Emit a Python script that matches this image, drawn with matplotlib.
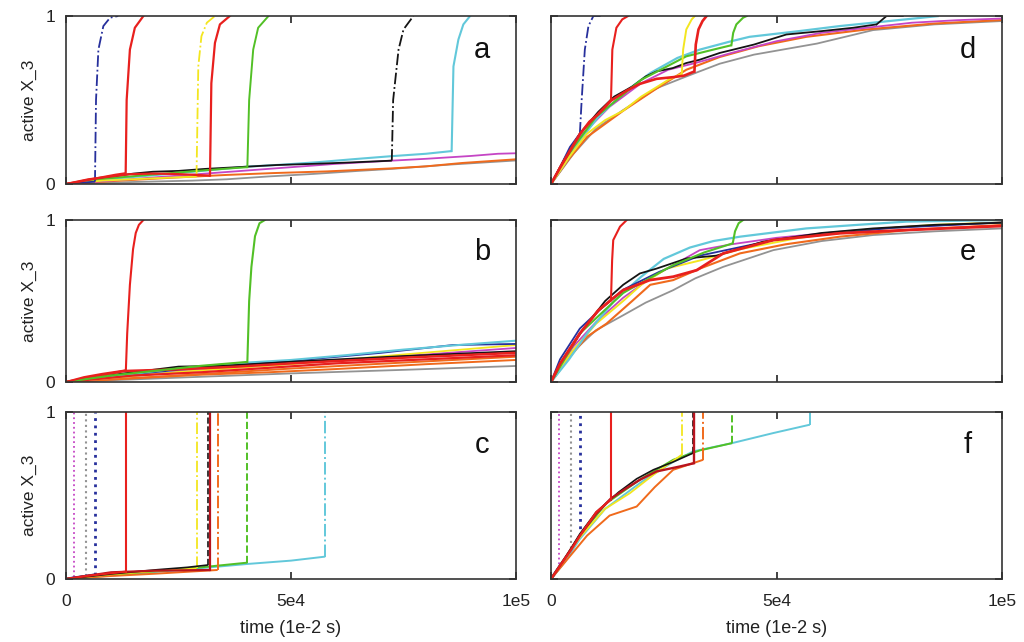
import matplotlib
matplotlib.use("Agg")
import matplotlib.pyplot as plt

plt.rcParams['font.family'] = ['Liberation Sans', 'DejaVu Sans']

# ---------------- data (time in units of 1e-2 s, active X_3 fraction) ----------------
x_ticks = [0, 50000, 100000]
x_ticklabels = ["0", "5e4", "1e5"]
y_ticks = [0, 1]
y_ticklabels = ["0", "1"]
panel_letters = ["a", "b", "c", "d", "e", "f"]
x_label = "time (1e-2 s)"
y_label = "active X_3"

# panel a
a_gray = [(0, 0), (15000, 0.012), (28000, 0.02), (35700, 0.028), (45000, 0.045), (55000, 0.06), (65000, 0.078), (72400, 0.09), (85000, 0.115), (100000, 0.14)]
a_orange = [(0, 0), (12000, 0.02), (24000, 0.038), (35700, 0.054), (46000, 0.065), (58000, 0.075), (72400, 0.093), (80000, 0.105), (88000, 0.125), (100000, 0.147)]
a_magenta = [(0, 0), (15000, 0.03), (30000, 0.06), (45000, 0.09), (60000, 0.12), (72400, 0.139), (80000, 0.15), (90000, 0.167), (96000, 0.18), (100000, 0.183)]
a_cyan = [(0, 0), (12000, 0.035), (25000, 0.065), (33000, 0.085), (40100, 0.103), (48000, 0.115), (56000, 0.13), (64000, 0.148), (72000, 0.165), (80000, 0.18), (85700, 0.196)]
a_cyan_up = [(85700, 0.196), (86100, 0.7), (87200, 0.86), (88300, 0.95), (89800, 1.0)]
a_black = [(0, 0), (8000, 0.035), (15000, 0.062), (19300, 0.073), (25000, 0.078), (31000, 0.09), (38000, 0.1), (46800, 0.113), (55000, 0.12), (63000, 0.128), (72400, 0.139)]
a_black_up = [(72400, 0.139), (72700, 0.5), (73900, 0.8), (75000, 0.92), (77200, 1.0)]
a_green = [(0, 0), (10000, 0.035), (20000, 0.058), (30000, 0.08), (36000, 0.092), (40300, 0.10)]
a_green_up = [(40300, 0.10), (40700, 0.5), (41600, 0.8), (42700, 0.93), (45000, 1.0)]
a_yellow = [(0, 0), (8000, 0.02), (16000, 0.03), (23000, 0.038), (29000, 0.044)]
a_yellow_up = [(29000, 0.044), (29400, 0.7), (30100, 0.88), (31300, 0.96), (33100, 1.0)]
a_blue = [(0, 0), (2000, 0.006), (4500, 0.01), (6440, 0.014)]
a_blue_up = [(6440, 0.014), (6670, 0.5), (7200, 0.8), (8300, 0.94), (9800, 0.99), (11600, 1.0)]
a_red2 = [(0, 0), (5000, 0.028), (10000, 0.045), (14000, 0.058), (19000, 0.062), (24000, 0.06), (28000, 0.055), (32000, 0.05)]
a_red2_up = [(32000, 0.05), (32300, 0.6), (33100, 0.84), (34200, 0.95), (36400, 1.0)]
a_red1 = [(0, 0), (2500, 0.012), (5000, 0.025), (8000, 0.04), (11000, 0.055), (13260, 0.064)]
a_red1_up = [(13260, 0.064), (13480, 0.5), (14200, 0.8), (15300, 0.93), (17200, 1.0)]

# panel b
b_gray = [(0, 0), (25000, 0.027), (50000, 0.053), (75000, 0.075), (100000, 0.099)]
b_orange2 = [(0, 0), (30000, 0.045), (45000, 0.06), (60000, 0.08), (80000, 0.11), (100000, 0.136)]
b_orange = [(0, 0), (12000, 0.02), (25000, 0.04), (50000, 0.083), (75000, 0.12), (100000, 0.156)]
b_magenta = [(0, 0), (12000, 0.03), (25000, 0.062), (50000, 0.115), (75000, 0.16), (100000, 0.21)]
b_yellow = [(0, 0), (12000, 0.03), (25000, 0.062), (50000, 0.11), (75000, 0.17), (100000, 0.228)]
b_blue = [(0, 0), (10000, 0.035), (25000, 0.075), (50000, 0.13), (70000, 0.18), (85900, 0.228), (100000, 0.235)]
b_cyan = [(0, 0), (12000, 0.04), (25000, 0.085), (40300, 0.12), (50000, 0.136), (62000, 0.165), (75000, 0.2), (88000, 0.23), (100000, 0.255)]
b_black = [(0, 0), (12000, 0.05), (25000, 0.095), (35000, 0.1), (50000, 0.125), (75000, 0.16), (100000, 0.19)]
b_red3 = [(0, 0), (15000, 0.04), (30000, 0.06), (60000, 0.115), (80000, 0.14), (100000, 0.165)]
b_red2 = [(0, 0), (13000, 0.068), (25000, 0.078), (38000, 0.095), (50000, 0.115), (75000, 0.15), (100000, 0.18)]
b_green = [(0, 0), (10000, 0.04), (20000, 0.07), (30000, 0.1), (40300, 0.124)]
b_green_up = [(40300, 0.124), (40700, 0.5), (41200, 0.71), (42000, 0.9), (43000, 0.98), (44200, 1.0)]
b_red1 = [(0, 0), (4000, 0.03), (8000, 0.05), (13300, 0.072)]
b_red1_up = [(13300, 0.072), (13600, 0.3), (14200, 0.6), (14900, 0.82), (15500, 0.92), (16200, 0.97), (17200, 1.0)]

# panel c
c_magenta = [(0, 0), (1800, 0.01)]
c_magenta_up = [(1800, 0.01), (1800, 1.0)]
c_gray = [(0, 0), (4370, 0.018)]
c_gray_up = [(4370, 0.018), (4370, 1.0)]
c_blue = [(0, 0), (6440, 0.025)]
c_blue_up = [(6440, 0.025), (6440, 1.0)]
c_cyan = [(0, 0), (15000, 0.03), (30000, 0.065), (40300, 0.09), (50000, 0.11), (57600, 0.134)]
c_cyan_up = [(57600, 0.134), (57600, 1.0)]
c_green = [(0, 0), (15000, 0.035), (30000, 0.07), (40300, 0.098)]
c_green_up = [(40300, 0.098), (40300, 1.0)]
c_orange = [(0, 0), (10000, 0.018), (20000, 0.032), (33700, 0.054)]
c_orange_up = [(33700, 0.054), (33700, 1.0)]
c_yellow = [(0, 0), (10000, 0.028), (20000, 0.048), (29000, 0.064)]
c_yellow_up = [(29000, 0.064), (29000, 1.0)]
c_black = [(0, 0), (10000, 0.03), (20000, 0.055), (27000, 0.07), (31600, 0.084)]
c_black_up = [(31600, 0.084), (31600, 1.0)]
c_red2 = [(0, 0), (10000, 0.04), (20000, 0.05), (32000, 0.054)]
c_red2_up = [(32000, 0.054), (32000, 1.0)]
c_red1 = [(0, 0), (5000, 0.02), (13260, 0.044)]
c_red1_up = [(13260, 0.044), (13260, 1.0)]

# panel d
d_gray = [(0, 0), (5000, 0.18), (10000, 0.33), (16000, 0.44), (23400, 0.57), (30000, 0.64), (37400, 0.716), (45000, 0.77), (59000, 0.836), (71400, 0.916), (85000, 0.95), (100000, 0.97)]
d_orange = [(0, 0), (4000, 0.15), (8000, 0.28), (16000, 0.436), (22700, 0.556), (30000, 0.68), (37400, 0.756), (46000, 0.82), (56600, 0.876), (70000, 0.92), (85000, 0.955), (100000, 0.976)]
d_magenta = [(0, 0), (6400, 0.28), (13000, 0.46), (20000, 0.6), (26000, 0.68), (32000, 0.72), (40000, 0.78), (50000, 0.85), (60000, 0.9), (70000, 0.93), (80000, 0.96), (90000, 0.975), (100000, 0.985)]
d_cyan = [(0, 0), (3000, 0.12), (6400, 0.26), (10500, 0.4), (16000, 0.54), (22000, 0.66), (28000, 0.75), (33000, 0.8), (40000, 0.85), (44000, 0.876), (55000, 0.91), (64000, 0.94), (75000, 0.97), (86000, 1.0)]
d_black = [(0, 0), (3000, 0.15), (6400, 0.3), (10500, 0.43), (14000, 0.52), (18000, 0.58), (21000, 0.64), (23400, 0.67), (27000, 0.69), (30000, 0.72), (33000, 0.74), (37400, 0.78), (45000, 0.83), (52200, 0.89), (60000, 0.91), (67000, 0.93), (72200, 0.95)]
d_black_up = [(72200, 0.95), (74400, 1.0), (78000, 1.0)]
d_green = [(0, 0), (5000, 0.22), (10000, 0.4), (20000, 0.62), (30000, 0.76), (36000, 0.8), (40000, 0.826)]
d_green_up = [(40000, 0.826), (40400, 0.9), (41100, 0.95), (42600, 0.99), (43400, 1.0)]
d_yellow = [(0, 0), (4000, 0.16), (8000, 0.3), (12000, 0.38), (16000, 0.436), (20000, 0.52), (23400, 0.576), (26000, 0.62), (29000, 0.656)]
d_yellow_up = [(29000, 0.656), (29300, 0.8), (30000, 0.92), (31200, 0.98), (31900, 1.0)]
d_blue = [(0, 0), (2000, 0.1), (4200, 0.22), (6400, 0.3)]
d_blue_up = [(6400, 0.3), (6800, 0.5), (7500, 0.8), (8300, 0.94), (9400, 1.0), (11000, 1.0)]
d_red2 = [(0, 0), (2000, 0.096), (4200, 0.196), (6400, 0.296), (8500, 0.37), (10500, 0.416), (13300, 0.496), (16800, 0.556), (19700, 0.596), (23400, 0.626), (27100, 0.636), (29500, 0.645), (31800, 0.67)]
d_red2_up = [(31800, 0.67), (32100, 0.83), (32700, 0.92), (33600, 0.97), (34500, 1.0)]
d_red1 = [(0, 0), (2000, 0.1), (4200, 0.2), (6400, 0.3), (10500, 0.42), (13300, 0.5)]
d_red1_up = [(13300, 0.5), (13600, 0.8), (14500, 0.93), (15800, 0.98), (17100, 1.0)]

# panel e
e_gray = [(0, 0), (5000, 0.19), (10000, 0.32), (16000, 0.412), (21000, 0.49), (27100, 0.567), (32000, 0.64), (38200, 0.711), (49300, 0.814), (60000, 0.87), (71400, 0.907), (85000, 0.93), (100000, 0.948)]
e_orange = [(0, 0), (4000, 0.15), (8000, 0.28), (12300, 0.36), (18000, 0.5), (22000, 0.6), (27100, 0.629), (33000, 0.7), (41900, 0.794), (52000, 0.85), (64000, 0.897), (80000, 0.94), (100000, 0.969)]
e_magenta = [(0, 0), (5000, 0.22), (10000, 0.37), (16000, 0.52), (22000, 0.64), (27000, 0.72), (33000, 0.814), (40000, 0.85), (50000, 0.89), (65000, 0.93), (80000, 0.96), (100000, 0.985)]
e_yellow = [(0, 0), (5000, 0.2), (10000, 0.36), (16000, 0.5), (20000, 0.6), (25600, 0.7), (33000, 0.75), (42000, 0.82), (55000, 0.89), (70000, 0.94), (85000, 0.97), (100000, 0.985)]
e_cyan = [(0, 0), (4000, 0.14), (8000, 0.3), (14000, 0.5), (20000, 0.65), (25000, 0.76), (30800, 0.83), (36000, 0.87), (41900, 0.897), (56600, 0.948), (68000, 0.97), (78800, 0.99), (100000, 1.0)]
e_blue = [(0, 0), (2000, 0.14), (6400, 0.33), (11000, 0.45), (16000, 0.57), (24000, 0.68), (33000, 0.78), (50000, 0.88), (75000, 0.95), (100000, 0.985)]
e_black = [(0, 0), (3000, 0.15), (7000, 0.32), (12000, 0.5), (16000, 0.6), (19700, 0.67), (23400, 0.7), (30100, 0.763), (36700, 0.78), (47000, 0.866), (60000, 0.92), (71400, 0.948), (85000, 0.97), (100000, 0.983)]
e_green = [(0, 0), (6400, 0.3), (16000, 0.55), (27000, 0.72), (34000, 0.8), (40300, 0.856)]
e_green_up = [(40300, 0.856), (40800, 0.93), (41600, 0.98), (42600, 1.0)]
e_red2 = [(0, 0), (2000, 0.113), (6400, 0.3), (10500, 0.443), (16000, 0.567), (21900, 0.629), (27100, 0.65), (32300, 0.69), (38200, 0.794), (49300, 0.876), (64000, 0.918), (78800, 0.938), (100000, 0.963)]
e_red1 = [(0, 0), (2000, 0.11), (6400, 0.3), (10500, 0.44), (13300, 0.505)]
e_red1_up = [(13300, 0.505), (13550, 0.75), (13800, 0.876), (15300, 0.959), (16800, 1.0)]

# panel f
f_magenta = [(0, 0), (1770, 0.06)]
f_magenta_up = [(1770, 0.06), (1770, 1.0)]
f_gray = [(0, 0), (2000, 0.07), (4360, 0.15)]
f_gray_up = [(4360, 0.15), (4360, 1.0)]
f_blue = [(0, 0), (2000, 0.08), (4400, 0.17), (6430, 0.26)]
f_blue_up = [(6430, 0.26), (6430, 1.0)]
f_cyan = [(0, 0), (3000, 0.1), (6400, 0.24), (12000, 0.42), (20000, 0.58), (27000, 0.7), (31500, 0.764), (36000, 0.79), (40200, 0.814), (49300, 0.874), (57400, 0.924)]
f_cyan_up = [(57400, 0.924), (57400, 1.0)]
f_green = [(0, 0), (6400, 0.26), (12300, 0.454), (20000, 0.6), (27100, 0.714), (33000, 0.77), (40200, 0.814)]
f_green_up = [(40200, 0.814), (40200, 1.0)]
f_orange = [(0, 0), (4000, 0.13), (8000, 0.26), (13000, 0.38), (19000, 0.434), (23000, 0.55), (27100, 0.654), (30000, 0.68), (33750, 0.714)]
f_orange_up = [(33750, 0.714), (33750, 1.0)]
f_yellow = [(0, 0), (6400, 0.25), (12000, 0.42), (17500, 0.514), (23000, 0.63), (29000, 0.744)]
f_yellow_up = [(29000, 0.744), (29000, 1.0)]
f_black = [(0, 0), (3000, 0.12), (6400, 0.27), (10000, 0.4), (15000, 0.52), (19000, 0.6), (22700, 0.654), (27000, 0.7), (31500, 0.754)]
f_black_up = [(31500, 0.754), (31500, 1.0)]
f_red2 = [(0, 0), (2000, 0.08), (6400, 0.26), (10000, 0.39), (13200, 0.48), (16500, 0.54), (19700, 0.594), (23400, 0.644), (28600, 0.674), (31800, 0.694)]
f_red2_up = [(31800, 0.694), (31800, 1.0)]
f_red1 = [(0, 0), (2000, 0.08), (4400, 0.17), (6430, 0.26), (10000, 0.4), (13200, 0.474)]
f_red1_up = [(13200, 0.474), (13200, 1.0)]

# ---------------- styles ----------------
COL = {
    'gray': '#939393', 'orange': '#f06a1c', 'magenta': '#c545c5', 'cyan': '#62c8da',
    'black': '#141414', 'green': '#52c026', 'yellow': '#f3e620', 'blue': '#27309c',
    'red': '#e8201e', 'darkred': '#b8141e',
}

# (base, rise, colour, rise linestyle, linewidth)
panels = {
    'a': [(a_gray, None, 'gray', '-', 1.3), (a_orange, None, 'orange', '-', 1.4),
          (a_magenta, None, 'magenta', '-', 1.3), (a_cyan, a_cyan_up, 'cyan', '-', 1.5),
          (a_black, a_black_up, 'black', '-.', 1.3), (a_green, a_green_up, 'green', '-', 1.4),
          (a_yellow, a_yellow_up, 'yellow', '-.', 1.3), (a_blue, a_blue_up, 'blue', '-.', 1.3),
          (a_red2, a_red2_up, 'red', '-', 1.6), (a_red1, a_red1_up, 'red', '-', 1.6)],
    'b': [(b_gray, None, 'gray', '-', 1.3), (b_orange2, None, 'orange', '-', 1.4),
          (b_orange, None, 'orange', '-', 1.4), (b_magenta, None, 'magenta', '-', 1.3),
          (b_yellow, None, 'yellow', '-', 1.3), (b_blue, None, 'blue', '-', 1.3),
          (b_cyan, None, 'cyan', '-', 1.5), (b_black, None, 'black', '-', 1.3),
          (b_red3, None, 'red', '-', 1.6), (b_red2, None, 'red', '-', 1.8),
          (b_green, b_green_up, 'green', '-', 1.5), (b_red1, b_red1_up, 'red', '-', 1.5)],
    'c': [(c_magenta, c_magenta_up, 'magenta', ':', 1.3), (c_gray, c_gray_up, 'gray', ':', 1.5),
          (c_blue, c_blue_up, 'blue', ':', 2.0), (c_cyan, c_cyan_up, 'cyan', '-.', 1.4),
          (c_green, c_green_up, 'green', '--', 1.4), (c_orange, c_orange_up, 'orange', '-.', 1.4),
          (c_yellow, c_yellow_up, 'yellow', '-.', 1.3), (c_black, c_black_up, 'black', '--', 1.2),
          (c_red2, c_red2_up, 'darkred', '-', 1.6), (c_red1, c_red1_up, 'red', '-', 1.5)],
    'd': [(d_gray, None, 'gray', '-', 1.3), (d_orange, None, 'orange', '-', 1.5),
          (d_magenta, None, 'magenta', '-', 1.3), (d_cyan, None, 'cyan', '-', 1.6),
          (d_black, d_black_up, 'black', '-', 1.3), (d_green, d_green_up, 'green', '-', 1.5),
          (d_yellow, d_yellow_up, 'yellow', '-', 1.4), (d_blue, d_blue_up, 'blue', '-.', 1.3),
          (d_red2, d_red2_up, 'red', '-', 1.9), (d_red1, d_red1_up, 'red', '-', 1.5)],
    'e': [(e_gray, None, 'gray', '-', 1.3), (e_orange, None, 'orange', '-', 1.5),
          (e_magenta, None, 'magenta', '-', 1.3), (e_yellow, None, 'yellow', '-', 1.4),
          (e_cyan, None, 'cyan', '-', 1.6), (e_blue, None, 'blue', '-', 1.3),
          (e_black, None, 'black', '-', 1.3), (e_green, e_green_up, 'green', '-', 1.5),
          (e_red2, None, 'red', '-', 2.0), (e_red1, e_red1_up, 'red', '-', 1.5)],
    'f': [(f_magenta, f_magenta_up, 'magenta', ':', 1.3), (f_gray, f_gray_up, 'gray', ':', 1.5),
          (f_blue, f_blue_up, 'blue', ':', 2.0), (f_cyan, f_cyan_up, 'cyan', '-.', 1.4),
          (f_green, f_green_up, 'green', '--', 1.4), (f_orange, f_orange_up, 'orange', '-.', 1.4),
          (f_yellow, f_yellow_up, 'yellow', '-.', 1.3), (f_black, f_black_up, 'black', '--', 1.2),
          (f_red2, f_red2_up, 'darkred', '-', 1.7), (f_red1, f_red1_up, 'red', '-', 1.5)],
}

fig = plt.figure(figsize=(10.24, 6.42), dpi=100)
W, H = 1024.0, 642.0
col_x = [(66, 516), (551, 1002)]
row_y = [(16, 184), (220, 382), (412, 579)]

for ci, (x0, x1) in enumerate(col_x):
    for ri, (y0, y1) in enumerate(row_y):
        letter = panel_letters[ci * 3 + ri]
        ax = fig.add_axes([x0 / W, 1 - y1 / H, (x1 - x0) / W, (y1 - y0) / H])
        for base, rise, cname, ls, lw in panels[letter]:
            c = COL[cname]
            ax.plot([p[0] for p in base], [p[1] for p in base], color=c, lw=lw, ls='-',
                    solid_capstyle='butt')
            if rise is not None:
                ax.plot([p[0] for p in rise], [p[1] for p in rise], color=c, lw=lw, ls=ls)
        ax.set_xlim(0, 100000)
        ax.set_ylim(0, 1)
        ax.set_xticks(x_ticks)
        ax.set_yticks(y_ticks)
        ax.tick_params(direction='in', top=True, right=True, length=5, width=1.2,
                       labelsize=12.5, colors='#222222')
        ax.tick_params(axis='x', pad=11)
        ax.tick_params(axis='y', pad=8)
        if ri == 2:
            ax.set_xticklabels(x_ticklabels)
            ax.set_xlabel(x_label, fontsize=13, labelpad=8, color='#222222')
        else:
            ax.set_xticklabels([])
        if ci == 0:
            ax.set_yticklabels(y_ticklabels)
            ax.set_ylabel(y_label, fontsize=12.5, labelpad=6, color='#222222')
        else:
            ax.set_yticklabels([])
        for s in ax.spines.values():
            s.set_linewidth(1.2)
            s.set_color('#333333')
        ax.text(0.925, 0.80, letter, transform=ax.transAxes, fontsize=21,
                ha='center', va='center', color='#111111')

fig.savefig("out.png", dpi=100)
